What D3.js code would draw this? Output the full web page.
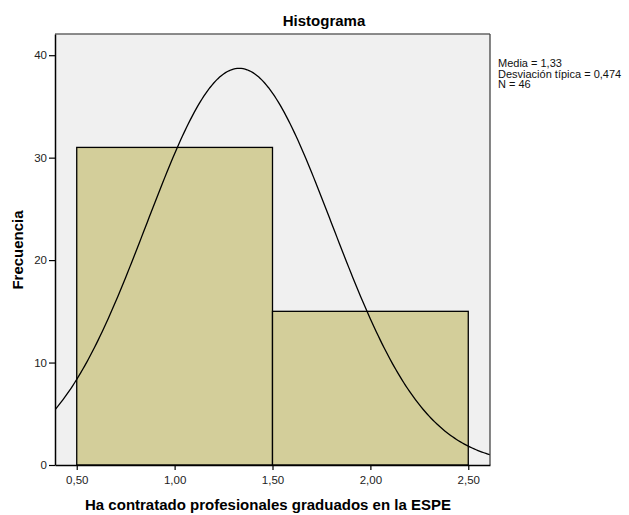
<html>
<head>
<script src="https://d3js.org/d3.v7.min.js"></script>
<style>
body { margin: 0; background: #fff; }
text { font-family: Arial, "Liberation Sans", sans-serif; }
</style>
</head>
<body>
<div id="chart"></div>
<script>
// histogram bins (lower edge, upper edge) and counts
var binStart = [0.5, 1.5];
var binEnd = [1.5, 2.5];
var counts = [31, 15];
var xTicks = [0.5, 1.0, 1.5, 2.0, 2.5];
var yTicks = [0, 10, 20, 30, 40];
// stats printed beside the chart, used for the normal curve
var media = 1.33, sd = 0.474, n = 46;
var statLines = ["Media = 1,33", "Desviación típica = 0,474", "N = 46"];

var W = 629, H = 515;
var plotL = 55, plotR = 490, plotT = 34, plotB = 465;

var svg = d3.select("#chart").append("svg")
    .attr("width", W).attr("height", H);

var x = d3.scaleLinear().domain([0.389, 2.611]).range([plotL, plotR]);
var y = d3.scaleLinear().domain([0, 42.07]).range([plotB, plotT]);

svg.append("rect")
    .attr("x", plotL).attr("y", plotT)
    .attr("width", plotR - plotL).attr("height", plotB - plotT)
    .attr("fill", "#f0f0f0");

svg.append("defs").append("clipPath").attr("id", "clip")
    .append("rect")
    .attr("x", plotL).attr("y", plotT)
    .attr("width", plotR - plotL).attr("height", plotB - plotT);

svg.selectAll(".bar")
    .data(counts)
    .enter().append("rect")
    .attr("class", "bar")
    .attr("x", function(d, i) { return x(binStart[i]); })
    .attr("y", function(d) { return y(d); })
    .attr("width", function(d, i) { return x(binEnd[i]) - x(binStart[i]); })
    .attr("height", function(d) { return y(0) - y(d); })
    .attr("fill", "#d3ce9a")
    .attr("stroke", "#000")
    .attr("stroke-width", 1.3);

// normal curve scaled to counts (bin width 1)
var pts = d3.range(0.3, 2.7, 0.01).map(function(v) {
    var z = (v - media) / sd;
    return [v, n * Math.exp(-0.5 * z * z) / (sd * Math.sqrt(2 * Math.PI))];
});
svg.append("path")
    .datum(pts)
    .attr("clip-path", "url(#clip)")
    .attr("fill", "none")
    .attr("stroke", "#000")
    .attr("stroke-width", 1.3)
    .attr("d", d3.line()
        .x(function(d) { return x(d[0]); })
        .y(function(d) { return y(d[1]); }));

// frame: top/right grey, left/bottom black
svg.append("line").attr("x1", plotL).attr("x2", plotR).attr("y1", plotT).attr("y2", plotT)
    .attr("stroke", "#666").attr("stroke-width", 1.5);
svg.append("line").attr("x1", plotR).attr("x2", plotR).attr("y1", plotT).attr("y2", plotB)
    .attr("stroke", "#444").attr("stroke-width", 1.3);

var fmt = function(d) { return d3.format(".2f")(d).replace(".", ","); };

var xAxis = svg.append("g")
    .attr("transform", "translate(0," + plotB + ")")
    .call(d3.axisBottom(x).tickValues(xTicks).tickSize(5).tickSizeOuter(0).tickPadding(6).tickFormat(fmt));
var yAxis = svg.append("g")
    .attr("transform", "translate(" + plotL + ",0)")
    .call(d3.axisLeft(y).tickValues(yTicks).tickSize(6).tickSizeOuter(0).tickPadding(2));

[xAxis, yAxis].forEach(function(a) {
    a.select(".domain").attr("stroke", "#000").attr("stroke-width", 1.5);
    a.selectAll(".tick line").attr("stroke", "#000").attr("stroke-width", 1.2);
    a.selectAll("text").attr("font-family", "Arial, 'Liberation Sans', sans-serif")
        .attr("font-size", 11.5).attr("fill", "#222");
});

svg.append("text")
    .attr("x", 324).attr("y", 26)
    .attr("text-anchor", "middle")
    .attr("font-size", 15).attr("font-weight", "bold")
    .text("Histograma");

svg.append("text")
    .attr("x", 268).attr("y", 510)
    .attr("text-anchor", "middle")
    .attr("font-size", 15).attr("font-weight", "bold")
    .text("Ha contratado profesionales graduados en la ESPE");

svg.append("text")
    .attr("transform", "translate(23,250) rotate(-90)")
    .attr("text-anchor", "middle")
    .attr("font-size", 15).attr("font-weight", "bold")
    .text("Frecuencia");

svg.selectAll(".stat")
    .data(statLines)
    .enter().append("text")
    .attr("class", "stat")
    .attr("x", 498)
    .attr("y", function(d, i) { return 67 + i * 10.5; })
    .attr("font-size", 11)
    .attr("fill", "#111")
    .text(function(d) { return d; });
</script>
</body>
</html>
